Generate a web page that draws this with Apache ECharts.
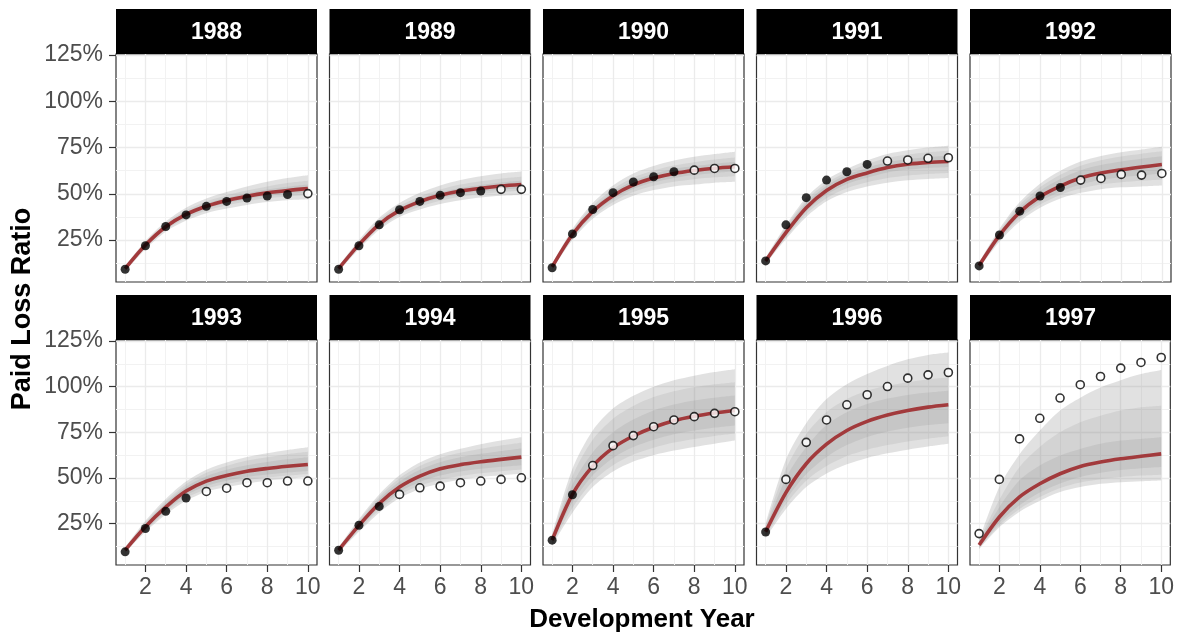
<!DOCTYPE html>
<html>
<head>
<meta charset="utf-8">
<script src="https://cdn.jsdelivr.net/npm/echarts@6/dist/echarts.min.js"></script>
<style>
html,body{margin:0;padding:0;background:#ffffff;}
#c{width:1177px;height:635px;}
</style>
</head>
<body>
<div id="c"></div>
<script>
// ---------------- DATA ----------------
const years = ['1988','1989','1990','1991','1992','1993','1994','1995','1996','1997'];
const devYears = [1,2,3,4,5,6,7,8,9,10];
const xTicks = [2,4,6,8,10];
const yTicks = [25,50,75,100,125];
const yTickLabels = ['25%','50%','75%','100%','125%'];
// number of observed (training) points per accident year; the rest are hold-out
const trainCount = [9,8,7,6,5,4,3,2,1,0];

const observed = [
  [9.2, 21.9, 32.3, 38.6, 43.2, 45.9, 47.7, 48.8, 49.6, 50.1],
  [9.2, 21.9, 33.2, 41.4, 45.9, 49.2, 50.6, 51.5, 52.4, 52.4],
  [10.0, 28.3, 41.5, 50.6, 56.4, 59.2, 61.9, 62.8, 63.7, 63.7],
  [13.7, 33.2, 47.9, 57.4, 61.9, 65.9, 67.7, 68.3, 69.2, 69.5],
  [11.0, 27.7, 40.6, 48.8, 53.4, 57.4, 58.3, 60.5, 60.1, 61.0],
  [9.5, 22.3, 31.7, 39.0, 42.6, 44.4, 47.4, 47.4, 48.3, 48.3],
  [10.4, 24.1, 34.4, 41.0, 44.6, 45.5, 47.4, 48.3, 49.2, 50.1],
  [15.9, 40.8, 56.8, 67.7, 73.2, 78.1, 81.8, 83.6, 85.4, 86.3],
  [20.4, 49.2, 69.5, 81.8, 90.1, 95.6, 100.1, 104.7, 106.5, 107.8],
  [19.5, 49.2, 71.4, 82.7, 93.8, 101.1, 105.6, 110.2, 113.3, 116.0]
];

const meanRatio = [
  [9.5, 22.3, 32.2, 38.9, 43.3, 46.4, 48.7, 50.5, 51.8, 52.8],
  [9.5, 22.5, 33.5, 41.0, 45.8, 49.2, 51.5, 53.0, 54.2, 55.0],
  [10.5, 28.0, 40.5, 49.0, 54.8, 58.5, 61.0, 62.6, 63.8, 64.6],
  [13.7, 29.0, 42.5, 51.8, 57.8, 61.3, 64.2, 66.0, 67.0, 67.5],
  [11.2, 27.5, 40.0, 48.5, 54.2, 58.5, 61.2, 63.0, 64.5, 65.8],
  [10.5, 23.3, 34.0, 42.8, 48.3, 51.4, 53.7, 55.2, 56.4, 57.4],
  [10.5, 24.0, 36.0, 45.0, 51.0, 55.0, 57.3, 58.9, 60.2, 61.4],
  [15.9, 41.0, 56.5, 66.5, 73.0, 77.8, 81.4, 83.8, 85.6, 87.0],
  [20.5, 42.0, 57.8, 68.5, 76.0, 81.0, 84.5, 87.0, 88.8, 90.1],
  [13.2, 28.6, 39.6, 46.8, 52.3, 56.3, 58.7, 60.5, 61.9, 63.2]
];

const outerLo = [
  [8, 20, 29.5, 35.5, 39.5, 42, 44, 45.5, 46.5, 47],
  [8, 20, 30.5, 37.5, 41.5, 44.5, 46.5, 48, 49, 49.5],
  [9, 25, 36.5, 44, 49, 52, 54, 55, 56, 56.5],
  [12, 25.5, 37.5, 46, 51, 54, 56, 57.3, 58, 58.5],
  [9.5, 24, 35, 42.5, 47.5, 50.5, 52.5, 53.5, 54, 54.5],
  [9, 20.5, 30, 37.5, 42.5, 45, 47, 48.5, 49.5, 50.5],
  [9, 20.5, 31, 39, 44, 47, 49, 50.5, 51.5, 52.3],
  [13, 31, 45, 53.5, 59, 62.5, 65, 67, 68.8, 70.5],
  [17, 33, 45, 52.5, 57.5, 61, 63.5, 65.5, 67.2, 68.7],
  [11, 23, 31.5, 37.5, 42.3, 45, 46.8, 47.7, 48.2, 48.6]
];
const outerHi = [
  [11, 24.5, 35, 42.5, 47.5, 51, 54, 56.5, 58.5, 60],
  [11, 25, 37, 45, 50.5, 54.5, 57.5, 59.5, 61, 62],
  [12, 31, 45, 54.5, 61, 65, 68, 70, 71.5, 72.8],
  [15.5, 33, 48, 57.5, 63.5, 68, 71.5, 73.5, 75, 76],
  [13, 31, 45.5, 55.5, 62.5, 67.5, 70.5, 72.5, 74, 75.5],
  [12, 26.5, 38.5, 48, 54.5, 58.5, 61.5, 63.5, 65.3, 66.8],
  [12, 27.5, 41, 51.5, 58.5, 63, 66, 68.5, 70.5, 72.3],
  [19, 55, 76, 88, 95, 100, 103.5, 106, 108, 109.6],
  [25, 60, 80, 93.2, 101.4, 107, 111.4, 115, 117.4, 118.7],
  [16, 45, 63, 76, 87, 94, 99.6, 103.6, 106.9, 109.1]
];
const midLo = [
  [8.5, 21, 30.5, 36.8, 41, 43.8, 46, 47.6, 48.6, 49.5],
  [8.5, 21, 31.5, 38.7, 43, 46.2, 48.4, 49.9, 51, 51.7],
  [9.5, 26, 37.7, 45.6, 51, 54.3, 56.5, 57.9, 58.9, 59.5],
  [12.4, 26.5, 39, 47.6, 53, 56.2, 58.5, 59.9, 60.7, 61.2],
  [10, 25, 36.5, 44.2, 49.4, 52.8, 55, 56.2, 57, 57.7],
  [9.4, 21.3, 31.1, 39, 44, 46.8, 48.8, 50.2, 51.3, 52.2],
  [9.4, 21.4, 32.3, 40.6, 45.8, 49, 51.1, 52.6, 53.7, 54.6],
  [13.8, 33.5, 48, 57, 62.8, 66.6, 69.4, 71.4, 73, 74.3],
  [18, 35.5, 48.5, 56.5, 62, 65.5, 68, 70, 71.5, 72.8],
  [11.5, 24, 33, 39.5, 44.5, 47.5, 49.3, 50.5, 51.3, 51.8]
];
const midHi = [
  [10.5, 23.5, 34, 41, 45.8, 49.2, 51.8, 54, 55.8, 57],
  [10.5, 24, 35.7, 43.5, 48.6, 52.3, 55, 56.8, 58.2, 59.2],
  [11.5, 30, 43.5, 52.5, 58.8, 62.6, 65.3, 67.1, 68.5, 69.6],
  [15, 32, 46.5, 55.8, 61.8, 66, 69.3, 71.2, 72.5, 73.3],
  [12.5, 30, 44, 53.5, 60.3, 65.2, 68.2, 70.2, 71.7, 73],
  [11.6, 25.6, 37.3, 46.6, 52.8, 56.6, 59.5, 61.4, 63, 64.3],
  [11.6, 26.6, 39.7, 49.8, 56.6, 61, 63.8, 66, 67.8, 69.3],
  [18, 51, 71, 82.5, 89.5, 94.3, 97.5, 99.7, 101.3, 102.5],
  [23.5, 55, 74, 86, 93.2, 97.8, 100.5, 102.5, 104, 105],
  [15.5, 38, 56, 67, 75, 80.5, 84.1, 86.9, 88.7, 89.6]
];
const innerLo = [
  [9, 21.6, 31.3, 37.8, 42.1, 45, 47.2, 48.9, 50, 50.9],
  [9, 21.7, 32.4, 39.7, 44.4, 47.6, 49.8, 51.2, 52.3, 53],
  [10, 27, 39, 47, 52.7, 56.2, 58.6, 60.2, 61.3, 62],
  [13, 27.5, 40.5, 49.5, 55.3, 58.7, 61.5, 63.1, 64, 64.5],
  [10.5, 26, 37.8, 45.8, 51.2, 55, 57.6, 59, 60, 61],
  [9.8, 22, 32.2, 40.5, 45.6, 48.5, 50.6, 51.9, 53, 53.8],
  [9.8, 22.4, 33.7, 42.3, 47.8, 51.3, 53.5, 55, 56.1, 57],
  [14.8, 36.5, 51.5, 61, 67, 71, 74, 76, 77.6, 78.8],
  [19, 38, 52, 61.5, 68, 72.5, 75.5, 77.5, 79, 80],
  [12, 25.5, 35, 42, 47, 50.5, 52.8, 54.3, 55.3, 56]
];
const innerHi = [
  [10, 23, 33.2, 40, 44.6, 47.8, 50.3, 52.3, 53.8, 55],
  [10, 23.3, 34.6, 42.3, 47.2, 50.8, 53.2, 54.8, 56.1, 57],
  [11, 29, 42, 51, 57, 60.8, 63.4, 65, 66.3, 67.2],
  [14.5, 31, 45, 54.3, 60.3, 64, 67, 68.8, 69.9, 70.6],
  [12, 29, 42.5, 51.6, 58, 62.8, 65.6, 67.5, 69, 70.3],
  [11.2, 24.8, 36, 45.2, 51, 54.5, 57, 58.8, 60.2, 61.4],
  [11.2, 25.6, 38.3, 48, 54.5, 58.6, 61.3, 63.2, 64.8, 66.2],
  [17, 46.5, 64, 75, 82, 87, 90.3, 92.5, 94, 95.2],
  [22, 50, 67, 79, 86, 90.5, 93.5, 95.5, 96.8, 97.8],
  [14.8, 34, 48.7, 56.8, 62.3, 65.9, 68.7, 70.5, 71.4, 72.3]
];

// ---------------- LAYOUT / STYLE ----------------
const FONT = '"Liberation Sans", Arial, Helvetica, sans-serif';
const PANEL_LEFT0 = 116, PANEL_STEP = 213.5, PANEL_W = 201;
const ROW_TOP = [54, 340], ROW_H = [228, 225];
const STRIP_H = 45;
const X_MIN = 0.55, X_MAX = 10.45, Y_MIN = 2.3, Y_MAX = 125.6;
const RED = '#A23A3C';
const BAND_COLORS = ['rgba(128,128,128,0.24)', 'rgba(128,128,128,0.14)', 'rgba(128,128,128,0.16)'];
const minorX = [1,3,5,7,9];
const minorY = [12.5,37.5,62.5,87.5,112.5];

const chart = echarts.init(document.getElementById('c'), null, {renderer: 'canvas'});
const grids = [], xAxes = [], yAxes = [], series = [], graphics = [];

years.forEach((yr, i) => {
  const col = i % 5, row = Math.floor(i / 5);
  const left = PANEL_LEFT0 + col * PANEL_STEP;
  grids.push({
    left: left, top: ROW_TOP[row], width: PANEL_W, height: ROW_H[row],
    show: true, backgroundColor: '#ffffff', borderColor: '#333333', borderWidth: 1.2
  });
  xAxes.push({
    gridIndex: i, type: 'value', min: X_MIN, max: X_MAX,
    axisLine: {show: false}, splitLine: {show: false},
    axisTick: {show: row === 1, length: 7, lineStyle: {color: '#333333', width: 1.2}, customValues: xTicks},
    axisLabel: {show: row === 1, customValues: xTicks, margin: 11, color: '#4D4D4D',
                fontSize: 23, fontFamily: FONT}
  });
  yAxes.push({
    gridIndex: i, type: 'value', min: Y_MIN, max: Y_MAX,
    axisLine: {show: false}, splitLine: {show: false},
    axisTick: {show: col === 0, length: 7, lineStyle: {color: '#333333', width: 1.2}, customValues: yTicks},
    axisLabel: {show: col === 0, customValues: yTicks, margin: 13, color: '#4D4D4D',
                fontSize: 23, fontFamily: FONT,
                formatter: v => yTickLabels[yTicks.indexOf(v)]}
  });

  // grid lines (through the axes' scales), kept beneath everything else
  const major = {color: '#EBEBEB', width: 1.3, type: 'solid'};
  const minor = {color: '#F2F2F2', width: 1, type: 'solid'};
  series.push({
    type: 'line', xAxisIndex: i, yAxisIndex: i, data: [], silent: true, z: 1,
    markLine: {
      silent: true, symbol: ['none', 'none'], label: {show: false}, animation: false,
      z: 1, zlevel: 0,
      lineStyle: {type: 'solid'},
      data: [].concat(
        minorY.map(v => ({yAxis: v, lineStyle: minor})),
        minorX.map(v => ({xAxis: v, lineStyle: minor})),
        yTicks.map(v => ({yAxis: v, lineStyle: major})),
        xTicks.map(v => ({xAxis: v, lineStyle: major}))
      )
    }
  });

  // ribbons: value first, development year second, so the stack runs on the y value
  const bands = [[outerLo, outerHi], [midLo, midHi], [innerLo, innerHi]];
  bands.forEach((b, bi) => {
    const lo = b[0][i], hi = b[1][i];
    const stackId = 'band_' + i + '_' + bi;
    series.push({
      type: 'line', xAxisIndex: i, yAxisIndex: i, stack: stackId, silent: true, z: 2,
      dimensions: ['ratio', 'dev'], encode: {x: 1, y: 0},
      data: devYears.map((x, k) => [lo[k], x]),
      symbol: 'none', smooth: 0.3, lineStyle: {opacity: 0, width: 0}
    });
    series.push({
      type: 'line', xAxisIndex: i, yAxisIndex: i, stack: stackId, silent: true, z: 2,
      dimensions: ['ratio', 'dev'], encode: {x: 1, y: 0},
      data: devYears.map((x, k) => [hi[k] - lo[k], x]),
      symbol: 'none', smooth: 0.3, lineStyle: {opacity: 0, width: 0},
      areaStyle: {color: BAND_COLORS[bi], opacity: 1}
    });
  });

  // mean line
  series.push({
    type: 'line', xAxisIndex: i, yAxisIndex: i, silent: true, z: 3,
    data: devYears.map((x, k) => [x, meanRatio[i][k]]),
    symbol: 'none', smooth: 0.3, lineStyle: {color: RED, width: 3.6}
  });

  // observed points
  const filled = [], hollow = [];
  devYears.forEach((x, k) => {
    (k < trainCount[i] ? filled : hollow).push([x, observed[i][k]]);
  });
  series.push({
    type: 'scatter', xAxisIndex: i, yAxisIndex: i, silent: true, z: 4,
    data: filled, symbol: 'circle', symbolSize: 9, itemStyle: {color: '#000000'}
  });
  series.push({
    type: 'scatter', xAxisIndex: i, yAxisIndex: i, silent: true, z: 4,
    data: hollow, symbol: 'circle', symbolSize: 8,
    itemStyle: {color: '#ffffff', borderColor: '#000000', borderWidth: 1.6}
  });

  // facet strip
  const stripTop = ROW_TOP[row] - STRIP_H;
  graphics.push({
    type: 'rect', shape: {x: left, y: stripTop, width: PANEL_W, height: STRIP_H},
    style: {fill: '#000000'}, z: 10
  });
  graphics.push({
    type: 'text', x: left + PANEL_W / 2, y: stripTop + STRIP_H / 2 + 1, z: 11,
    style: {text: yr, fill: '#ffffff', font: 'bold 23px ' + FONT, align: 'center', verticalAlign: 'middle'}
  });
});

// axis titles
graphics.push({
  type: 'text', x: 23, y: 309, rotation: Math.PI / 2, z: 11,
  style: {text: 'Paid Loss Ratio', fill: '#000000', font: 'bold 27px ' + FONT, align: 'center', verticalAlign: 'middle'}
});
graphics.push({
  type: 'text', x: 642, y: 620, z: 11,
  style: {text: 'Development Year', fill: '#000000', font: 'bold 26px ' + FONT, align: 'center', verticalAlign: 'middle'}
});

chart.setOption({
  animation: false,
  backgroundColor: '#ffffff',
  grid: grids,
  xAxis: xAxes,
  yAxis: yAxes,
  series: series,
  graphic: graphics
});
</script>
</body>
</html>
